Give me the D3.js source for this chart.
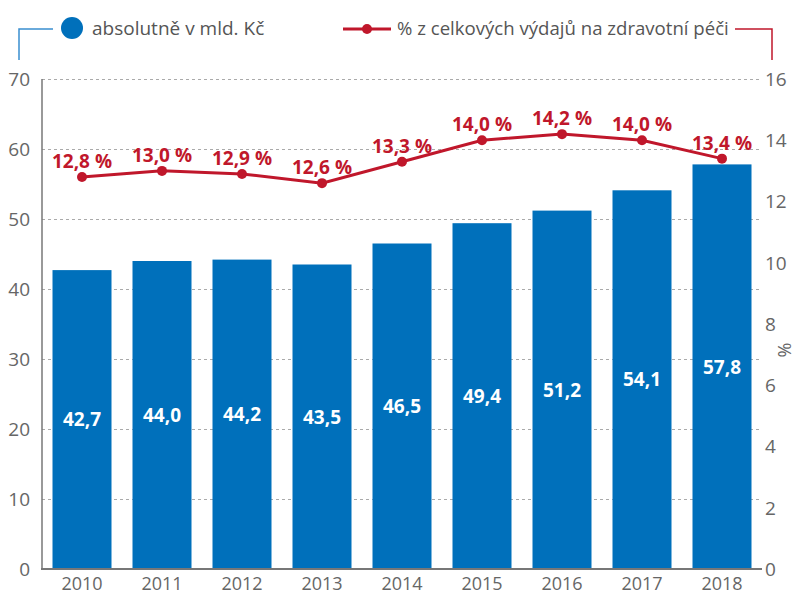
<!DOCTYPE html>
<html>
<head>
<meta charset="utf-8">
<script src="https://cdn.jsdelivr.net/npm/d3@7"></script>
<style>
body { margin: 0; background: #fff; }
svg text { font-family: "Open Sans", sans-serif; }
</style>
</head>
<body>
<svg id="chart" width="795" height="595"></svg>
<script>
// data
var years = ["2010", "2011", "2012", "2013", "2014", "2015", "2016", "2017", "2018"];
var absolutni = [42.7, 44.0, 44.2, 43.5, 46.5, 49.4, 51.2, 54.1, 57.8];
var podil = [12.8, 13.0, 12.9, 12.6, 13.3, 14.0, 14.2, 14.0, 13.4];
var leftTicks = [0, 10, 20, 30, 40, 50, 60, 70];
var rightTicks = [0, 2, 4, 6, 8, 10, 12, 14, 16];

var blue = "#0070bb";
var red = "#c0172b";
var grey = "#666";

var svg = d3.select("#chart");
var plotL = 42, plotR = 762, plotT = 79, plotB = 569;

var fmt = function(v) { return d3.format(".1f")(v).replace(".", ","); };

var x = d3.scaleBand()
  .domain(years)
  .range([plotL, plotR])
  .paddingInner(0.2625)
  .paddingOuter(0.13125);

var y = d3.scaleLinear().domain([0, 70]).range([plotB, plotT]);
var y2 = d3.scaleLinear().domain([0, 16]).range([plotB, plotT]);

// gridlines
svg.append("g")
  .selectAll("line")
  .data(leftTicks.slice(1))
  .enter().append("line")
  .attr("x1", plotL).attr("x2", plotR)
  .attr("y1", function(d) { return y(d) + 0.5; })
  .attr("y2", function(d) { return y(d) + 0.5; })
  .attr("stroke", "#aaa")
  .attr("stroke-width", 1)
  .attr("stroke-dasharray", "3,3");

// left axis labels
svg.append("g")
  .selectAll("text")
  .data(leftTicks)
  .enter().append("text")
  .attr("x", 30)
  .attr("y", function(d) { return y(d); })
  .attr("dy", "0.36em")
  .attr("text-anchor", "end")
  .attr("font-size", 19)
  .attr("fill", grey)
  .text(function(d) { return d; });

// right axis labels
svg.append("g")
  .selectAll("text")
  .data(rightTicks)
  .enter().append("text")
  .attr("x", 765)
  .attr("y", function(d) { return y2(d); })
  .attr("dy", "0.36em")
  .attr("text-anchor", "start")
  .attr("font-size", 19)
  .attr("fill", grey)
  .text(function(d) { return d; });

svg.append("text")
  .attr("transform", "translate(785,350) rotate(-90)")
  .attr("text-anchor", "middle")
  .attr("dy", "0.36em")
  .attr("font-size", 18)
  .attr("fill", grey)
  .text("%");

// bars
svg.append("g")
  .selectAll("rect")
  .data(years)
  .enter().append("rect")
  .attr("x", function(d) { return x(d); })
  .attr("width", x.bandwidth())
  .attr("y", function(d, i) { return y(absolutni[i]); })
  .attr("height", function(d, i) { return plotB - y(absolutni[i]); })
  .attr("fill", blue);

// bar labels
svg.append("g")
  .selectAll("text")
  .data(years)
  .enter().append("text")
  .attr("x", function(d) { return x(d) + x.bandwidth() / 2; })
  .attr("y", function(d, i) { return (y(absolutni[i]) + plotB) / 2; })
  .attr("dy", "0.36em")
  .attr("text-anchor", "middle")
  .attr("font-size", 19)
  .attr("font-weight", "bold")
  .attr("fill", "#fff")
  .text(function(d, i) { return fmt(absolutni[i]); });

// axes lines
svg.append("line")
  .attr("x1", plotL).attr("x2", plotL)
  .attr("y1", plotT).attr("y2", plotB)
  .attr("stroke", "#777").attr("stroke-width", 1.5);
svg.append("line")
  .attr("x1", plotL - 1).attr("x2", plotR)
  .attr("y1", plotB).attr("y2", plotB)
  .attr("stroke", "#777").attr("stroke-width", 2);

// x labels
svg.append("g")
  .selectAll("text")
  .data(years)
  .enter().append("text")
  .attr("x", function(d) { return x(d) + x.bandwidth() / 2; })
  .attr("y", 590)
  .attr("text-anchor", "middle")
  .attr("font-size", 18)
  .attr("fill", grey)
  .text(function(d) { return d; });

// line
var line = d3.line()
  .x(function(d, i) { return x(years[i]) + x.bandwidth() / 2; })
  .y(function(d) { return y2(d); });

svg.append("path")
  .datum(podil)
  .attr("d", line)
  .attr("fill", "none")
  .attr("stroke", red)
  .attr("stroke-width", 3);

svg.append("g")
  .selectAll("circle")
  .data(podil)
  .enter().append("circle")
  .attr("cx", function(d, i) { return x(years[i]) + x.bandwidth() / 2; })
  .attr("cy", function(d) { return y2(d); })
  .attr("r", 5)
  .attr("fill", red);

svg.append("g")
  .selectAll("text")
  .data(podil)
  .enter().append("text")
  .attr("x", function(d, i) { return x(years[i]) + x.bandwidth() / 2; })
  .attr("y", function(d) { return y2(d) - 9; })
  .attr("text-anchor", "middle")
  .attr("font-size", 19)
  .attr("font-weight", "bold")
  .attr("fill", red)
  .text(function(d) { return fmt(d) + " %"; });

// legend
var leg = svg.append("g");
leg.append("path")
  .attr("d", "M19,60V29H53")
  .attr("fill", "none")
  .attr("stroke", "#3a8fd0")
  .attr("stroke-width", 1.5);
leg.append("circle")
  .attr("cx", 72).attr("cy", 28).attr("r", 11)
  .attr("fill", blue);
leg.append("text")
  .attr("x", 92).attr("y", 35)
  .attr("font-size", 19)
  .attr("fill", "#555")
  .text("absolutně v mld. Kč");

leg.append("line")
  .attr("x1", 343).attr("x2", 391)
  .attr("y1", 29).attr("y2", 29)
  .attr("stroke", red).attr("stroke-width", 3);
leg.append("circle")
  .attr("cx", 367).attr("cy", 29).attr("r", 5)
  .attr("fill", red);
leg.append("text")
  .attr("x", 397).attr("y", 35)
  .attr("font-size", 18.6)
  .attr("fill", "#555")
  .text("% z celkových výdajů na zdravotní péči");
leg.append("path")
  .attr("d", "M735,29H772V60")
  .attr("fill", "none")
  .attr("stroke", red)
  .attr("stroke-width", 1.5);
</script>
</body>
</html>
